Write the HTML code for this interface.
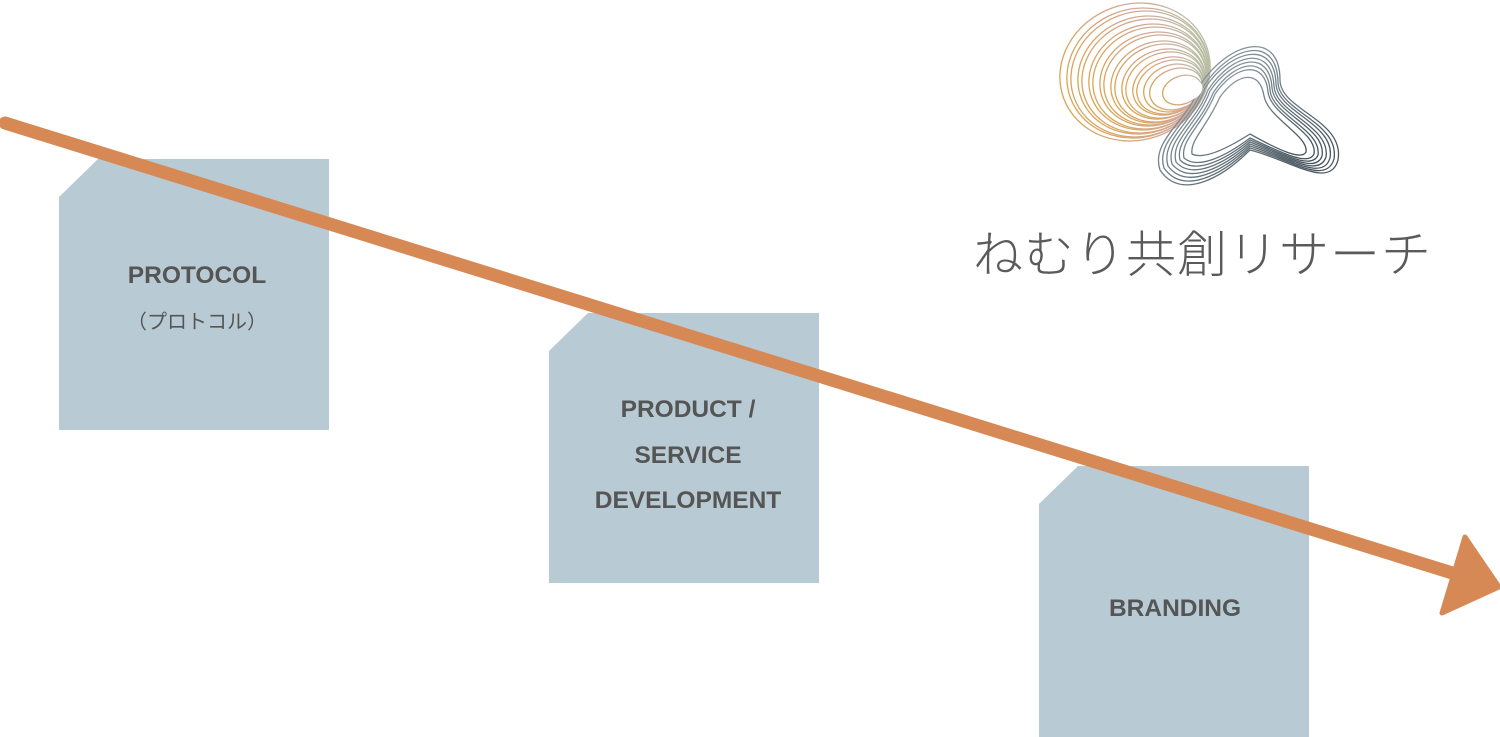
<!DOCTYPE html>
<html><head><meta charset="utf-8"><style>
html,body{margin:0;padding:0;background:#fff;}
body{width:1500px;height:737px;position:relative;overflow:hidden;font-family:"Liberation Sans","Noto Sans CJK JP",sans-serif;}
.t{position:absolute;color:#555;font-weight:bold;font-size:24.5px;text-align:center;transform:translate(-50%,-50%);white-space:nowrap;}
</style></head><body>
<svg width="1500" height="737" style="position:absolute;left:0;top:0">
<defs>
<linearGradient id="g1" x1="0" y1="0" x2="1" y2="0"><stop offset="0" stop-color="#d9a552"/><stop offset="0.6" stop-color="#d4a898"/><stop offset="1" stop-color="#b9bda4"/></linearGradient>
<linearGradient id="g2" x1="0" y1="0" x2="1" y2="1"><stop offset="0" stop-color="#9aa9b0"/><stop offset="1" stop-color="#3f4d57"/></linearGradient>
</defs>
<g fill="#b8cad3">
<path d="M98,159H329V430H59V197Z"/>
<path d="M588,313H819V583H549V351Z"/>
<path d="M1078,466H1309V737H1039V504Z"/>
</g>
<g fill="none" stroke-width="1.3">
<g stroke="url(#g1)">
<ellipse cx="1135" cy="72" rx="76" ry="68" transform="rotate(-20 1135 72)"/>
<ellipse cx="1138" cy="73" rx="72" ry="64" transform="rotate(-20 1138 73)"/>
<ellipse cx="1140" cy="74" rx="70" ry="62" transform="rotate(-20 1140 74)"/>
<ellipse cx="1143" cy="75" rx="66" ry="58" transform="rotate(-20 1143 75)"/>
<ellipse cx="1145" cy="76" rx="64" ry="56" transform="rotate(-20 1145 76)"/>
<ellipse cx="1148" cy="77" rx="60" ry="52" transform="rotate(-20 1148 77)"/>
<ellipse cx="1150" cy="78" rx="58" ry="50" transform="rotate(-20 1150 78)"/>
<ellipse cx="1153" cy="79" rx="54" ry="46" transform="rotate(-20 1153 79)"/>
<ellipse cx="1155" cy="80" rx="52" ry="44" transform="rotate(-20 1155 80)"/>
<ellipse cx="1158" cy="82" rx="48" ry="40" transform="rotate(-20 1158 82)"/>
<ellipse cx="1160" cy="83" rx="46" ry="38" transform="rotate(-20 1160 83)"/>
<ellipse cx="1163" cy="84" rx="42" ry="34" transform="rotate(-20 1163 84)"/>
<ellipse cx="1165" cy="85" rx="40" ry="32" transform="rotate(-20 1165 85)"/>
<ellipse cx="1168" cy="86" rx="36" ry="28" transform="rotate(-20 1168 86)"/>
<ellipse cx="1170" cy="87" rx="34" ry="26" transform="rotate(-20 1170 87)"/>
<ellipse cx="1173" cy="88" rx="30" ry="23" transform="rotate(-20 1173 88)"/>
<ellipse cx="1176" cy="89" rx="27" ry="20" transform="rotate(-20 1176 89)"/>
<ellipse cx="1182" cy="90" rx="20" ry="14" transform="rotate(-20 1182 90)"/>
</g>
<g stroke="url(#g2)">
<path d="M1200,85 C1230,40 1280,30 1280,80 C1280,110 1345,120 1338,160 C1330,190 1290,160 1250,150 C1220,180 1180,200 1160,170 C1150,140 1190,120 1200,85Z"/>
<path d="M1203,87 C1231,44 1277,35 1278,82 C1278,111 1340,122 1334,159 C1326,186 1289,159 1250,148 C1221,176 1183,195 1164,168 C1155,140 1192,121 1203,87Z"/>
<path d="M1205,88 C1232,48 1275,40 1276,84 C1277,112 1336,124 1330,158 C1323,182 1288,158 1250,146 C1222,172 1186,190 1168,166 C1160,140 1194,122 1205,88Z"/>
<path d="M1208,90 C1233,52 1272,45 1274,86 C1275,113 1331,126 1326,157 C1319,178 1287,157 1250,144 C1223,168 1189,185 1172,164 C1165,140 1196,123 1208,90Z"/>
<path d="M1210,91 C1234,56 1270,50 1272,88 C1274,114 1327,128 1322,156 C1316,174 1286,156 1250,142 C1224,164 1192,180 1176,162 C1170,140 1198,124 1210,91Z"/>
<path d="M1213,93 C1235,60 1267,55 1270,90 C1272,115 1322,130 1318,155 C1312,170 1285,155 1250,140 C1225,160 1195,175 1180,160 C1175,140 1200,125 1213,93Z"/>
<path d="M1215,94 C1236,64 1265,60 1268,92 C1271,116 1318,132 1314,154 C1309,166 1284,154 1250,138 C1226,156 1198,170 1184,158 C1180,140 1202,126 1215,94Z"/>
<path d="M1220,97 C1238,72 1260,70 1264,96 C1268,118 1309,136 1306,152 C1302,160 1282,152 1250,134 C1228,148 1204,160 1192,154 C1190,140 1206,128 1220,97Z"/>
</g>
</g>
<ellipse cx="1189" cy="90" rx="14" ry="10" fill="#fff" transform="rotate(-20 1189 90)"/>
<line x1="5" y1="123" x2="1462" y2="576" stroke="#d68955" stroke-width="13" stroke-linecap="round"/>
<path d="M1465,537 L1499,587 L1442,613 Z" fill="#d68955" stroke="#d68955" stroke-width="5" stroke-linejoin="round"/>
</svg>
<div style="position:absolute;left:973px;top:220px;font-family:'Noto Sans CJK JP',sans-serif;font-weight:300;font-size:50px;letter-spacing:1px;color:#5a5a5a;line-height:62px;white-space:nowrap">ねむり共創リサーチ</div>
<div class="t" style="left:197px;top:276px">PROTOCOL</div>
<div class="t" style="left:197px;top:320px;font-weight:normal;font-size:20px">（プロトコル）</div>
<div class="t" style="left:688px;top:410px">PRODUCT /</div>
<div class="t" style="left:688px;top:456px">SERVICE</div>
<div class="t" style="left:688px;top:501px">DEVELOPMENT</div>
<div class="t" style="left:1175px;top:609px">BRANDING</div>
</body></html>
